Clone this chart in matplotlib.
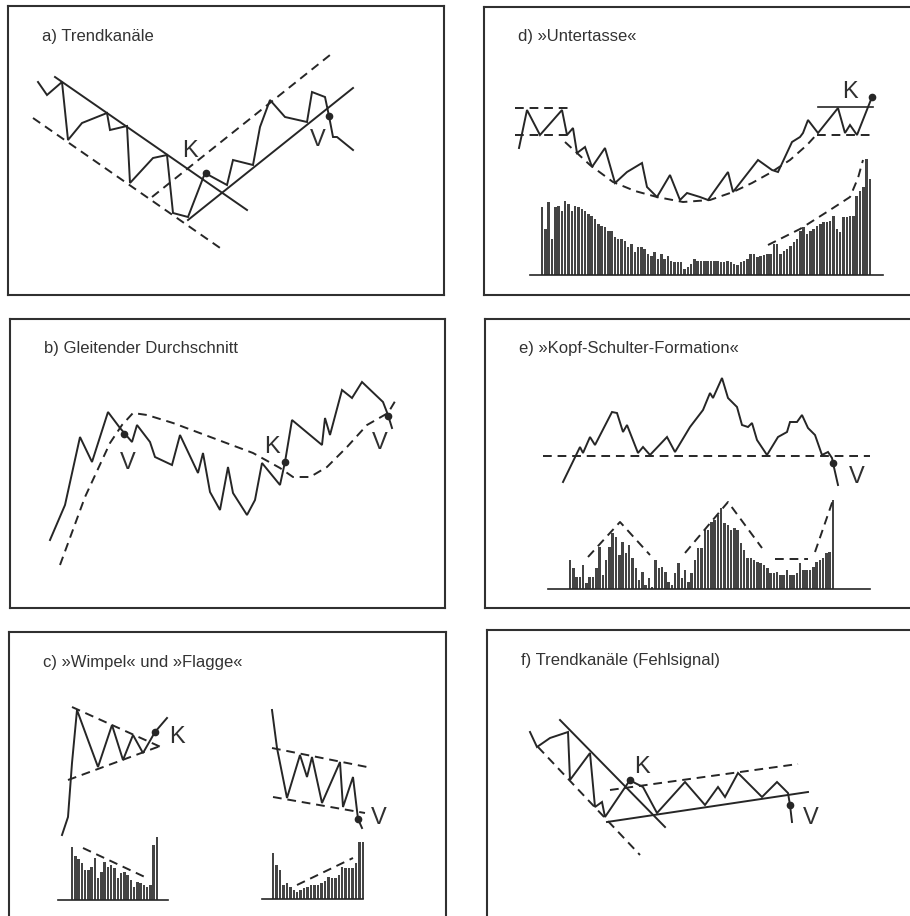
import numpy as np
import matplotlib.pyplot as plt

plt.rcParams['font.family'] = ['Liberation Sans', 'DejaVu Sans']

INK = '#262626'
LW = 1.4
DASH = (0, (4.5, 3))

# ---- panel a) Trendkanäle ----
a_price_x = [38, 47, 62, 68, 82, 107, 110, 127, 130, 153, 167, 173, 188, 205, 227, 233, 253, 260, 270, 285, 307, 312, 325, 329, 333, 337, 353]
a_price_y = [82, 95, 82, 140, 123, 113, 130, 126, 183, 158, 155, 213, 217, 173, 185, 160, 165, 127, 100, 117, 122, 92, 97, 116, 137, 137, 150]
a_down_x, a_down_y = [55, 247], [77, 210]
a_up_x, a_up_y = [188, 353], [220, 88]
a_down_dash_x, a_down_dash_y = [33, 223], [118, 250]
a_up_dash_x, a_up_dash_y = [152, 330], [197, 55]

# ---- panel b) Gleitender Durchschnitt ----
b_price_x = [50, 65, 80, 92, 108, 120, 132, 137, 150, 155, 172, 180, 198, 203, 210, 220, 228, 233, 247, 255, 262, 280, 285, 292, 322, 325, 330, 342, 352, 362, 383, 388, 392]
b_price_y = [540, 505, 437, 462, 412, 428, 442, 425, 442, 457, 465, 435, 473, 453, 492, 510, 467, 493, 515, 500, 463, 485, 462, 420, 445, 418, 435, 390, 398, 382, 402, 415, 428]
b_ma_x = [60, 85, 110, 122, 133, 147, 173, 213, 253, 280, 293, 310, 327, 347, 367, 388, 397]
b_ma_y = [565, 497, 443, 425, 413, 415, 423, 438, 453, 468, 477, 477, 467, 447, 425, 413, 398]

# ---- panel c) Wimpel und Flagge ----
c1_price_x = [62, 68, 72, 77, 88, 98, 112, 123, 133, 143, 155, 167]
c1_price_y = [835, 817, 763, 710, 740, 767, 725, 760, 735, 753, 732, 718]
c1_top_x, c1_top_y = [72, 163], [707, 748]
c1_bot_x, c1_bot_y = [68, 163], [780, 745]
c1_vol = [53, 44, 41, 37, 30, 30, 33, 42, 22, 28, 38, 33, 35, 32, 22, 27, 28, 25, 20, 13, 18, 17, 15, 13, 15, 55, 63]
c1_vol_dash_x, c1_vol_dash_y = [83, 147], [848, 878]

c2_price_x = [272, 277, 287, 300, 307, 312, 322, 340, 343, 353, 358, 362]
c2_price_y = [710, 748, 798, 755, 777, 757, 803, 762, 807, 777, 819, 828]
c2_top_x, c2_top_y = [272, 367], [748, 767]
c2_bot_x, c2_bot_y = [273, 365], [797, 813]
c2_vol = [46, 34, 29, 14, 16, 12, 9, 7, 9, 11, 12, 14, 14, 14, 16, 18, 22, 21, 21, 24, 32, 31, 31, 31, 36, 57, 57]
c2_vol_dash_x, c2_vol_dash_y = [297, 353], [885, 858]

# ---- panel d) Untertasse ----
d_price_x = [519, 527, 540, 562, 567, 573, 577, 585, 592, 605, 615, 627, 642, 647, 657, 670, 680, 687, 700, 708, 728, 733, 758, 772, 778, 792, 800, 803, 808, 818, 838, 845, 850, 857, 872]
d_price_y = [148, 110, 135, 110, 135, 128, 153, 147, 167, 148, 183, 172, 163, 187, 197, 175, 200, 193, 197, 200, 172, 192, 160, 170, 172, 142, 137, 133, 120, 133, 108, 133, 125, 135, 97]
d_saucer_x = [565, 590, 613, 635, 657, 683, 710, 733, 752, 770, 790, 807, 818]
d_saucer_y = [142, 165, 182, 191, 197, 202, 200, 192, 183, 173, 160, 145, 133]
d_vol = [68, 46, 73, 36, 68, 69, 64, 74, 71, 64, 69, 68, 66, 64, 61, 59, 56, 51, 49, 48, 44, 44, 38, 36, 36, 34,
         28, 31, 23, 28, 28, 26, 21, 19, 23, 16, 21, 16, 19, 14, 13, 13, 13, 6, 8, 11, 16, 14, 14, 14, 14, 14, 14,
         14, 13, 13, 14, 13, 11, 10, 13, 14, 16, 21, 21, 18, 19, 20, 21, 21, 31, 31, 21, 24, 26, 29, 33, 36, 44,
         48, 41, 44, 46, 49, 51, 53, 53, 54, 59, 46, 43, 58, 58, 59, 59, 79, 84, 88, 116, 96]
d_vol_dash_x = [768, 800, 830, 850, 858, 863]
d_vol_dash_y = [245, 229, 210, 197, 178, 160]

# ---- panel e) Kopf-Schulter-Formation ----
e_price_x = [563, 580, 583, 590, 595, 612, 617, 623, 627, 638, 643, 650, 667, 675, 690, 703, 710, 713, 722, 728, 737, 742, 748, 752, 757, 767, 778, 787, 790, 797, 802, 808, 815, 822, 828, 832, 833, 838]
e_price_y = [482, 447, 453, 437, 445, 412, 413, 432, 425, 453, 447, 455, 437, 452, 427, 410, 393, 398, 378, 398, 407, 425, 427, 423, 440, 455, 437, 432, 422, 422, 415, 428, 435, 455, 452, 458, 463, 485]
e_vol = [29, 21, 12, 12, 24, 6, 12, 12, 21, 42, 14, 29, 42, 56, 52, 34, 47, 36, 44, 31, 21, 9, 17, 4, 11, 2,
         29, 21, 22, 17, 7, 4, 16, 26, 11, 19, 7, 16, 29, 41, 41, 59, 59, 67, 69, 74, 81, 66, 64, 59, 61, 59,
         46, 39, 31, 31, 29, 27, 26, 24, 21, 16, 16, 17, 14, 14, 19, 14, 14, 16, 26, 19, 19, 19, 22, 27, 29,
         31, 36, 37, 89]
e_dash_segments = [([588, 620, 650], [557, 522, 555]),
                   ([685, 728, 762], [553, 502, 548]),
                   ([775, 808], [559, 559]),
                   ([815, 833], [552, 500])]

# ---- panel f) Trendkanäle (Fehlsignal) ----
f_price_x = [530, 537, 550, 568, 570, 590, 595, 602, 605, 630, 635, 643, 657, 685, 705, 718, 725, 738, 762, 777, 788, 790, 792]
f_price_y = [732, 747, 738, 732, 780, 753, 807, 802, 817, 780, 783, 787, 813, 782, 805, 787, 797, 773, 797, 782, 793, 805, 822]


def panel(x0, y0, x1, y1, title):
    W, H = 910, 916
    ax = fig.add_axes([x0 / W, 1 - y1 / H, (x1 - x0) / W, (y1 - y0) / H])
    ax.set_xlim(x0, x1)
    ax.set_ylim(y1, y0)
    ax.set_xticks([])
    ax.set_yticks([])
    for s in ax.spines.values():
        s.set_linewidth(1.5)
        s.set_color('#303030')
    ax.text(x0 + 34, y0 + 30, title, fontsize=12, color='#333333', va='center')
    return ax


def line(ax, x, y, dashed=False, lw=LW):
    ax.plot(x, y, color=INK, lw=lw, ls=DASH if dashed else '-', solid_joinstyle='miter')


def dot(ax, x, y):
    ax.plot([x], [y], 'o', color=INK, ms=4.5)


def label(ax, x, y, s):
    ax.text(x, y, s, fontsize=17, color='#303030', ha='center', va='center')


def volume(ax, x_start, x_end, base, heights, width=2.5):
    xs = np.linspace(x_start, x_end, len(heights))
    h = np.array(heights)
    ax.bar(xs, h, bottom=base - h, width=width, color='#444444', linewidth=0)


fig = plt.figure(figsize=(9.1, 9.16), dpi=100)

# a
ax = panel(8, 6, 444, 295, 'a) Trendkanäle')
line(ax, a_price_x, a_price_y)
line(ax, a_down_x, a_down_y)
line(ax, a_up_x, a_up_y)
line(ax, a_down_dash_x, a_down_dash_y, dashed=True)
line(ax, a_up_dash_x, a_up_dash_y, dashed=True)
dot(ax, 206, 173)
dot(ax, 329, 116)
label(ax, 190, 151, 'K')
label(ax, 318, 140, 'V')

# b
ax = panel(10, 319, 445, 608, 'b) Gleitender Durchschnitt')
line(ax, b_price_x, b_price_y)
line(ax, b_ma_x, b_ma_y, dashed=True)
dot(ax, 124, 434)
dot(ax, 285, 462)
dot(ax, 388, 416)
label(ax, 128, 463, 'V')
label(ax, 272, 447, 'K')
label(ax, 380, 443, 'V')

# c
ax = panel(9, 632, 446, 925, 'c) »Wimpel« und »Flagge«')
line(ax, c1_price_x, c1_price_y)
line(ax, c1_top_x, c1_top_y, dashed=True)
line(ax, c1_bot_x, c1_bot_y, dashed=True)
dot(ax, 155, 732)
label(ax, 177, 737, 'K')
volume(ax, 72, 157, 900, c1_vol)
ax.plot([58, 168], [900, 900], color=INK, lw=1.2)
line(ax, c1_vol_dash_x, c1_vol_dash_y, dashed=True)
line(ax, c2_price_x, c2_price_y)
line(ax, c2_top_x, c2_top_y, dashed=True)
line(ax, c2_bot_x, c2_bot_y, dashed=True)
dot(ax, 358, 819)
label(ax, 379, 818, 'V')
volume(ax, 273, 363, 899, c2_vol)
ax.plot([262, 363], [899, 899], color=INK, lw=1.2)
line(ax, c2_vol_dash_x, c2_vol_dash_y, dashed=True)

# d
ax = panel(484, 7, 920, 295, 'd) »Untertasse«')
line(ax, d_price_x, d_price_y)
line(ax, d_saucer_x, d_saucer_y, dashed=True)
line(ax, [515, 568], [108, 108], dashed=True)
line(ax, [515, 568], [135, 135], dashed=True)
line(ax, [818, 873], [107, 107], lw=1.2)
line(ax, [817, 875], [135, 135], dashed=True)
dot(ax, 872, 97)
label(ax, 850, 92, 'K')
volume(ax, 542, 870, 275, d_vol)
ax.plot([530, 883], [275, 275], color=INK, lw=1.2)
line(ax, d_vol_dash_x, d_vol_dash_y, dashed=True)

# e
ax = panel(485, 319, 920, 608, 'e) »Kopf-Schulter-Formation«')
line(ax, e_price_x, e_price_y)
line(ax, [543, 870], [456, 456], dashed=True)
dot(ax, 833, 463)
label(ax, 857, 477, 'V')
volume(ax, 570, 833, 589, e_vol)
ax.plot([548, 870], [589, 589], color=INK, lw=1.2)
for sx, sy in e_dash_segments:
    line(ax, sx, sy, dashed=True)

# f
ax = panel(487, 630, 920, 925, 'f) Trendkanäle (Fehlsignal)')
line(ax, f_price_x, f_price_y)
line(ax, [560, 665], [720, 827])
line(ax, [607, 808], [822, 792])
line(ax, [538, 640], [747, 855], dashed=True)
line(ax, [610, 798], [790, 764], dashed=True)
dot(ax, 630, 780)
dot(ax, 790, 805)
label(ax, 642, 767, 'K')
label(ax, 811, 818, 'V')

fig.savefig('out.png', dpi=100, facecolor='white')
